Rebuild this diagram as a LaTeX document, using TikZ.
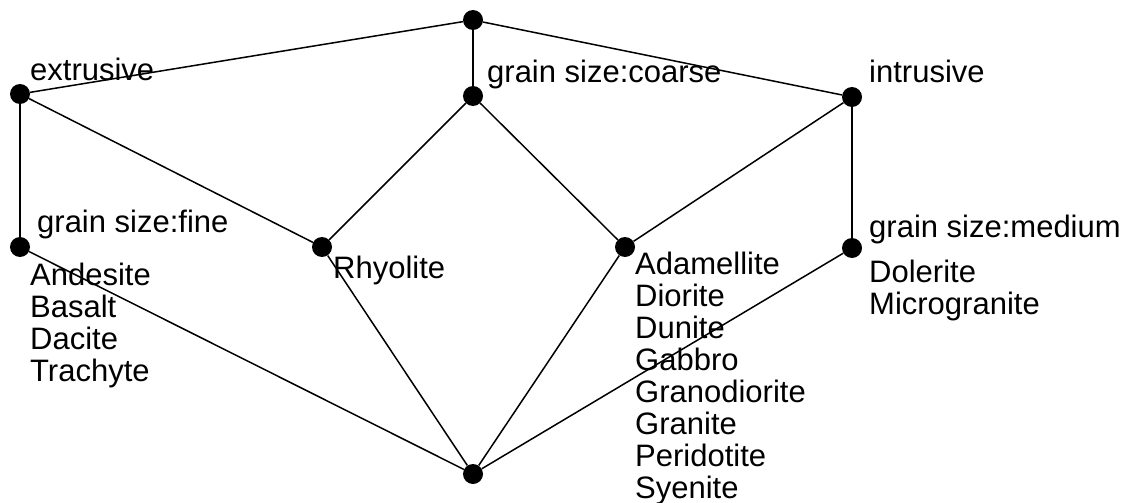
\documentclass[tikz,border=0pt]{standalone}
\usepackage{fontspec}
\setmainfont{Liberation Sans}
\begin{document}
\begin{tikzpicture}[x=1pt,y=-1pt,
  concept/.style={circle,fill=black,inner sep=0pt,minimum size=20pt},
  edge/.style={line width=1.5pt},
  lbl/.style={anchor=base west,inner sep=0pt,font=\fontsize{31}{32}\selectfont}]
\useasboundingbox (0,0) rectangle (1133,503);
% concepts
\node[concept] (top) at (473,20) {};
\node[concept] (ext) at (20,94) {};
\node[concept] (coarse) at (473,96) {};
\node[concept] (intr) at (852,97) {};
\node[concept] (fine) at (20,247) {};
\node[concept] (rhy) at (322,247) {};
\node[concept] (ada) at (625,247) {};
\node[concept] (med) at (852,248) {};
\node[concept] (bot) at (473,474) {};
% edges
\draw[edge] (top) -- (ext);
\draw[edge] (top) -- (coarse);
\draw[edge] (top) -- (intr);
\draw[edge] (ext) -- (fine);
\draw[edge] (ext) -- (rhy);
\draw[edge] (coarse) -- (rhy);
\draw[edge] (coarse) -- (ada);
\draw[edge] (intr) -- (ada);
\draw[edge] (intr) -- (med);
\draw[edge] (fine) -- (bot);
\draw[edge] (rhy) -- (bot);
\draw[edge] (ada) -- (bot);
\draw[edge] (med) -- (bot);
% attribute labels
\node[lbl] (lext) at (30,81) {extrusive};
\node[lbl] (lcoarse) at (487,82) {grain size:coarse};
\node[lbl] (lintr) at (869,82) {intrusive};
\node[lbl] (lfine) at (37,232) {grain size:fine};
\node[lbl] (lmed) at (869,237) {grain size:medium};
% object labels
\node[lbl] (ofine) at (30,285) {\begin{tabular}[t]{@{}l@{}}Andesite\\Basalt\\Dacite\\Trachyte\end{tabular}};
\node[lbl] (orhy) at (333,278) {Rhyolite};
\node[lbl] (oada) at (635,274) {\begin{tabular}[t]{@{}l@{}}Adamellite\\Diorite\\Dunite\\Gabbro\\Granodiorite\\Granite\\Peridotite\\Syenite\end{tabular}};
\node[lbl] (omed) at (869,282) {\begin{tabular}[t]{@{}l@{}}Dolerite\\Microgranite\end{tabular}};
\end{tikzpicture}
\end{document}
